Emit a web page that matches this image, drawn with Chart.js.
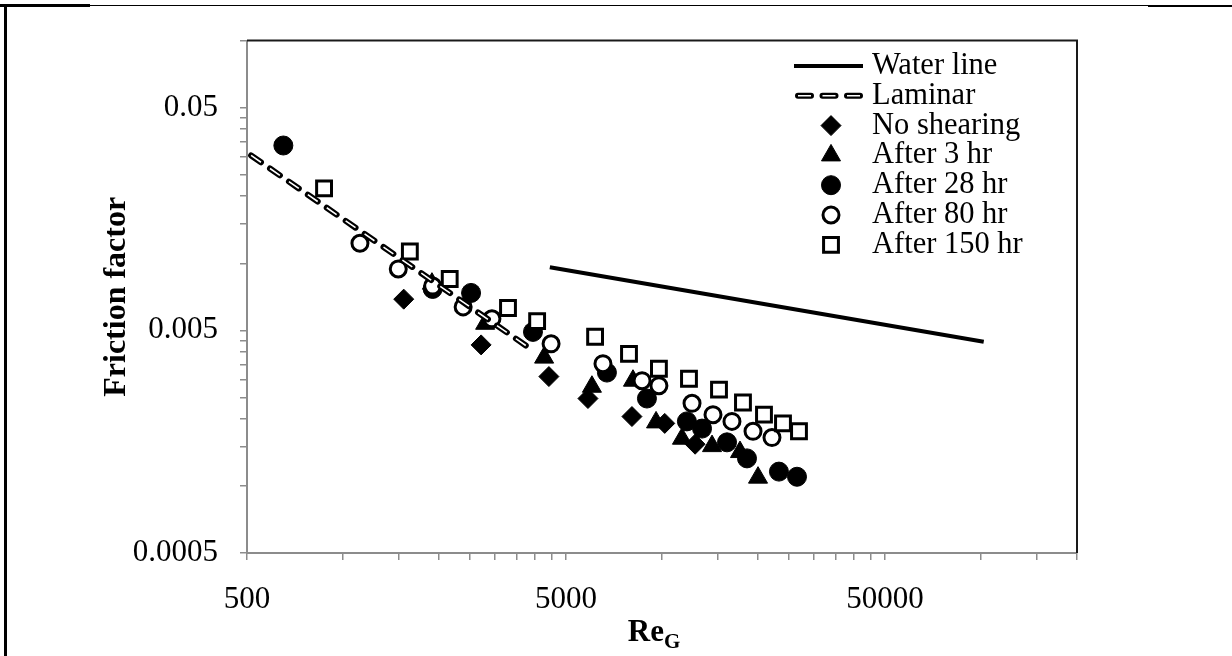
<!DOCTYPE html>
<html lang="en">
  <head>
    <meta charset="UTF-8" />
    <title>Friction factor vs Re_G</title>
    <script src="https://cdn.jsdelivr.net/npm/chart.js@4.4.0/dist/chart.umd.min.js"></script>
    <style>
      html, body { margin: 0; padding: 0; background: #fff; }
      #wrap { position: relative; width: 1232px; height: 656px; overflow: hidden; }
      #chart { position: absolute; left: 0; top: 0; }
      .rule { position: absolute; background: #000; }
    </style>
  </head>
  <body>
    <div id="wrap">
      <canvas id="chart" width="1232" height="656"></canvas>
      <div class="rule" style="left:0; top:5px; width:1232px; height:1px"></div>
      <div class="rule" style="left:0; top:4px; width:90px; height:3px"></div>
      <div class="rule" style="left:1148px; top:5px; width:84px; height:2px"></div>
      <div class="rule" style="left:4px; top:4px; width:3px; height:652px"></div>
    </div>
    <script>
      // values
      const waterRe = [4450, 102000];
      const waterF = [0.0096, 0.00444];
      const laminarRe = [515, 3950];
      const laminarF = [0.0305, 0.00405];

      const noShearRe = [1550, 2710, 4420, 5860, 8050, 10200, 12700];
      const noShearF = [0.0069, 0.0043, 0.0031, 0.00247, 0.00205, 0.00191, 0.00154];

      const after3Re = [1900, 2790, 4270, 6030, 8110, 9580, 11550, 14350, 17560, 20000];
      const after3F = [0.0081, 0.00535, 0.00377, 0.00279, 0.00297, 0.00193, 0.00163, 0.00151, 0.00142, 0.00109];

      const after28Re = [650, 1910, 2520, 3940, 6720, 8970, 11970, 13350, 15990, 18470, 23260, 26500];
      const after28F = [0.0338, 0.00767, 0.00736, 0.00492, 0.00323, 0.00247, 0.00195, 0.00181, 0.00157, 0.00133, 0.00116, 0.0011];

      const after80Re = [1130, 1490, 1910, 2380, 2930, 4490, 6530, 8660, 9780, 12420, 14450, 16570, 19290, 22120];
      const after80F = [0.0123, 0.00943, 0.0079, 0.00637, 0.00563, 0.00435, 0.00354, 0.00297, 0.00282, 0.00235, 0.00209, 0.00195, 0.00176, 0.00165];

      const after150Re = [872, 1620, 2160, 3290, 4060, 6170, 7880, 9780, 12150, 15090, 17940, 20880, 23950, 26880];
      const after150F = [0.0217, 0.0113, 0.0085, 0.0063, 0.0055, 0.00468, 0.00392, 0.00336, 0.00303, 0.00271, 0.00237, 0.00209, 0.00191, 0.00176];

      const xTicks = [500, 1000, 1500, 2000, 2500, 3000, 3500, 4000, 4500, 5000,
        10000, 15000, 20000, 25000, 30000, 35000, 40000, 45000, 50000, 100000, 150000, 200000];
      const xLabelValues = [500, 5000, 50000];
      const xLabels = ["500", "5000", "50000"];

      const yTicks = [0.0005, 0.001, 0.0015, 0.002, 0.0025, 0.003, 0.0035, 0.004, 0.0045, 0.005,
        0.01, 0.015, 0.02, 0.025, 0.03, 0.035, 0.04, 0.045, 0.05, 0.1];
      const yLabelValues = [0.0005, 0.005, 0.05];
      const yLabels = ["0.0005", "0.005", "0.05"];

      const legendNames = ["Water line", "Laminar", "No shearing", "After 3 hr", "After 28 hr", "After 80 hr", "After 150 hr"];

      const SERIF = '"Liberation Serif", "Times New Roman", serif';
      const AXIS_GREY = "#8c8c8c";

      function pts(xs, ys) {
        return xs.map((x, i) => ({ x: x, y: ys[i] }));
      }

      function labelFor(v, values, labels) {
        for (let i = 0; i < values.length; i++) {
          if (Math.abs(v - values[i]) / values[i] < 1e-6) return labels[i];
        }
        return "";
      }

      const lamDash = [12, 11];

      const datasets = [
        { label: "Laminar core", data: pts(laminarRe, laminarF), showLine: true, borderColor: "#fff",
          borderWidth: 1.6, borderDash: lamDash, pointRadius: 0, order: 0 },
        { label: legendNames[1], data: pts(laminarRe, laminarF), showLine: true, borderColor: "#000",
          borderWidth: 6, borderDash: lamDash, borderCapStyle: "round", pointRadius: 0, order: 1 },
        { label: legendNames[0], data: pts(waterRe, waterF), showLine: true, borderColor: "#000",
          borderWidth: 4, pointRadius: 0, order: 2 },
        { label: legendNames[6], data: pts(after150Re, after150F), pointStyle: "rect", pointRadius: 10.5,
          backgroundColor: "#fff", borderColor: "#000", borderWidth: 3, order: 3 },
        { label: legendNames[5], data: pts(after80Re, after80F), pointStyle: "circle", pointRadius: 8,
          backgroundColor: "#fff", borderColor: "#000", borderWidth: 3, order: 4 },
        { label: legendNames[4], data: pts(after28Re, after28F), pointStyle: "circle", pointRadius: 9.5,
          backgroundColor: "#000", borderColor: "#000", borderWidth: 1, order: 5 },
        { label: legendNames[3], data: pts(after3Re, after3F), pointStyle: "triangle", pointRadius: 11,
          backgroundColor: "#000", borderColor: "#000", borderWidth: 1, order: 6 },
        { label: legendNames[2], data: pts(noShearRe, noShearF), pointStyle: "rectRot", pointRadius: 10,
          backgroundColor: "#000", borderColor: "#000", borderWidth: 1, order: 7 }
      ];

      // legend inside the plot, drawn from the dataset styles
      const boxLegend = {
        id: "boxLegend",
        afterDraw(chart) {
          const ctx = chart.ctx;
          ctx.save();
          ctx.font = "30.5px " + SERIF;
          ctx.textBaseline = "middle";
          legendNames.forEach((name, i) => {
            const ds = chart.data.datasets.find((d) => d.label === name);
            const y = 66 + i * 29.8;
            if (ds.showLine) {
              ctx.beginPath();
              ctx.moveTo(ds.borderDash ? 798 : 794, y);
              ctx.lineTo(ds.borderDash ? 860 : 863, y);
              ctx.strokeStyle = "#000";
              ctx.lineWidth = ds.borderWidth;
              if (ds.borderDash) {
                ctx.setLineDash([13, 11.5]);
                ctx.lineCap = "round";
                ctx.stroke();
                ctx.lineCap = "butt";
                ctx.strokeStyle = "#fff";
                ctx.lineWidth = 1.6;
                ctx.stroke();
                ctx.setLineDash([]);
              } else {
                ctx.stroke();
              }
            } else {
              ctx.fillStyle = ds.backgroundColor;
              ctx.strokeStyle = ds.borderColor;
              ctx.lineWidth = ds.borderWidth;
              Chart.helpers.drawPoint(ctx, { pointStyle: ds.pointStyle, radius: ds.pointRadius,
                rotation: 0, borderWidth: ds.borderWidth }, 831, y);
            }
            ctx.fillStyle = "#000";
            ctx.fillText(name, 872, y);
          });
          ctx.restore();
        }
      };

      // black top/right frame of the plot and the Re_G axis title
      const plotFrame = {
        id: "plotFrame",
        afterDraw(chart) {
          const a = chart.chartArea;
          const ctx = chart.ctx;
          ctx.save();
          ctx.strokeStyle = "#1a1a1a";
          ctx.lineWidth = 2;
          ctx.beginPath();
          ctx.moveTo(a.left, a.top);
          ctx.lineTo(a.right, a.top);
          ctx.lineTo(a.right, a.bottom);
          ctx.stroke();

          ctx.fillStyle = "#000";
          ctx.textBaseline = "alphabetic";
          ctx.font = "bold 31px " + SERIF;
          const w1 = ctx.measureText("Re").width;
          ctx.font = "bold 21px " + SERIF;
          const w2 = ctx.measureText("G").width;
          const x0 = (a.left + a.right) / 2 - 8 - (w1 + w2) / 2;
          ctx.font = "bold 31px " + SERIF;
          ctx.fillText("Re", x0, 641);
          ctx.font = "bold 21px " + SERIF;
          ctx.fillText("G", x0 + w1, 648);
          ctx.restore();
        }
      };

      new Chart(document.getElementById("chart"), {
        type: "scatter",
        data: { datasets: datasets },
        plugins: [boxLegend, plotFrame],
        options: {
          responsive: false,
          animation: false,
          events: [],
          layout: { padding: { left: 0, top: 39, right: 155, bottom: 0 } },
          plugins: { legend: { display: false }, tooltip: { enabled: false } },
          scales: {
            x: {
              type: "logarithmic",
              min: 500,
              max: 200000,
              afterBuildTicks: (s) => { s.ticks = xTicks.map((v) => ({ value: v })); },
              afterFit: (s) => { s.height = 103; },
              ticks: {
                autoSkip: false,
                maxRotation: 0,
                padding: 21,
                color: "#000",
                font: { family: SERIF, size: 31 },
                callback: (v) => labelFor(v, xLabelValues, xLabels)
              },
              grid: { drawOnChartArea: false, tickLength: 7, color: AXIS_GREY, lineWidth: 1.5 },
              border: { color: AXIS_GREY, width: 2 }
            },
            y: {
              type: "logarithmic",
              min: 0.0005,
              max: 0.1,
              afterBuildTicks: (s) => { s.ticks = yTicks.map((v) => ({ value: v })); },
              afterFit: (s) => { s.width = 247; },
              ticks: {
                autoSkip: false,
                padding: 22,
                color: "#000",
                font: { family: SERIF, size: 31 },
                callback: (v) => labelFor(v, yLabelValues, yLabels)
              },
              grid: { drawOnChartArea: false, tickLength: 7, color: AXIS_GREY, lineWidth: 1.5 },
              border: { color: AXIS_GREY, width: 2 },
              title: {
                display: true,
                text: "Friction factor",
                color: "#000",
                font: { family: SERIF, size: 32, weight: "bold" },
                padding: { top: 98, bottom: 0 }
              }
            }
          }
        }
      });
    </script>
  </body>
</html>
